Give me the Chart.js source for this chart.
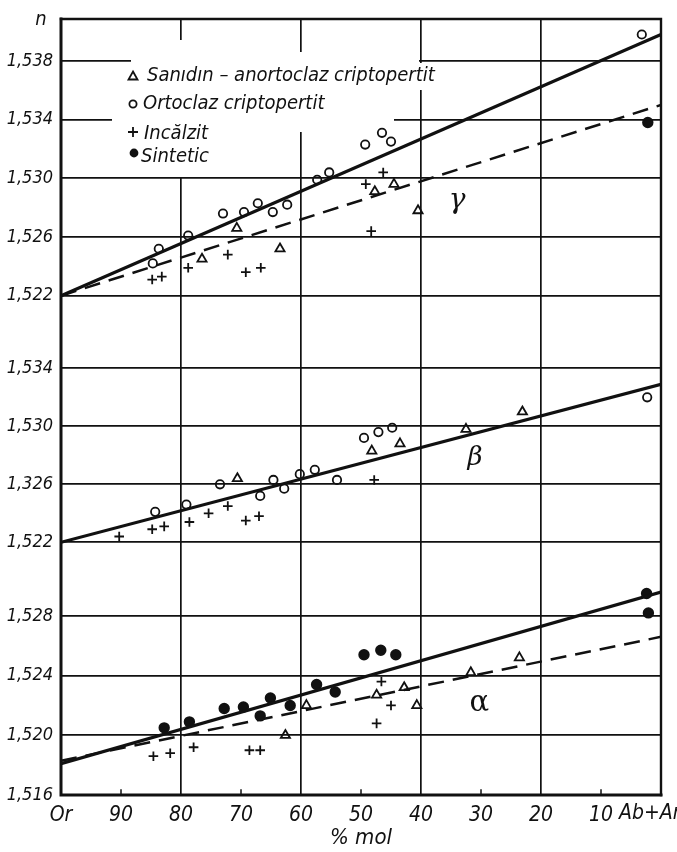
<!DOCTYPE html>
<html>
<head>
<meta charset="utf-8">
<script src="https://cdn.jsdelivr.net/npm/chart.js@4/dist/chart.umd.min.js"></script>
<style>
  html, body { margin: 0; padding: 0; background: #fff; }
  #wrap { width: 677px; height: 852px; }
  canvas { display: block; }
</style>
</head>
<body>
<div id="wrap"><canvas id="chart" width="677" height="852"></canvas></div>
<script>
// ---- composition axis (% mol, Or = 100 ... Ab+An = 0) ----
const xTicks = [100, 90, 80, 70, 60, 50, 40, 30, 20, 10, 0];
const xTickLabels = ['Or', '90', '80', '70', '60', '50', '40', '30', '20', '10', 'Ab+An'];
const xTitle = '% mol';
const yTitle = 'n';

// ---- refractive index ticks for the three bands ----
const gammaTicks = [1.538, 1.534, 1.530, 1.526, 1.522];
const gammaTickLabels = ['1,538', '1,534', '1,530', '1,526', '1,522'];
const betaTicks = [1.534, 1.530, 1.526, 1.522];
const betaTickLabels = ['1,534', '1,530', '1,326', '1,522'];
const alphaTicks = [1.528, 1.524, 1.520, 1.516];
const alphaTickLabels = ['1,528', '1,524', '1,520', '1,516'];

const seriesNames = ['Sanıdın – anortoclaz criptopertit', 'Ortoclaz criptopertit', 'Incălzit', 'Sintetic'];
const bandNames = ['γ', 'β', 'α'];

// ---- γ : [% mol Or, n] ----
const gammaSanidin = [[70.7, 1.5266], [76.5, 1.5245], [63.5, 1.5252], [47.7, 1.5291], [44.5, 1.5296], [40.5, 1.5278]];
const gammaOrtoclaz = [[84.7, 1.5242], [83.7, 1.5252], [78.8, 1.5261], [73.0, 1.5276], [69.5, 1.5277], [67.2, 1.5283],
  [64.7, 1.5277], [62.3, 1.5282], [57.3, 1.5299], [55.3, 1.5304], [49.3, 1.5323], [46.5, 1.5331], [45.0, 1.5325], [3.2, 1.5398]];
const gammaIncalzit = [[84.8, 1.5231], [83.2, 1.5233], [78.8, 1.5239], [72.2, 1.5248], [69.2, 1.5236], [66.7, 1.5239],
  [49.2, 1.5296], [46.3, 1.5304], [48.3, 1.5264]];
const gammaSintetic = [[2.2, 1.5338]];
const gammaFitSolid = [[100, 1.5220], [0, 1.5398]];
const gammaFitDashed = [[100, 1.5220], [0, 1.5350]];

// ---- β ----
const betaSanidin = [[70.6, 1.5264], [48.2, 1.5283], [43.5, 1.5288], [32.5, 1.5298], [23.1, 1.5310]];
const betaOrtoclaz = [[84.3, 1.5241], [79.1, 1.5246], [73.5, 1.5260], [66.8, 1.5252], [64.6, 1.5263], [62.8, 1.5257],
  [60.2, 1.5267], [57.7, 1.5270], [54.0, 1.5263], [49.5, 1.5292], [47.1, 1.5296], [44.8, 1.5299], [2.3, 1.5320]];
const betaIncalzit = [[90.3, 1.5224], [84.8, 1.5229], [82.8, 1.5231], [78.6, 1.5234], [75.4, 1.5240], [72.2, 1.5245],
  [69.2, 1.5235], [67.0, 1.5238], [47.8, 1.5263]];
const betaFitSolid = [[100, 1.5220], [0, 1.5329]];

// ---- α ----
const alphaSanidin = [[62.6, 1.5200], [59.1, 1.5220], [47.4, 1.5227], [42.8, 1.5232], [40.7, 1.5220], [31.7, 1.5242], [23.6, 1.5252]];
const alphaIncalzit = [[84.6, 1.5186], [81.8, 1.5188], [77.9, 1.5192], [68.6, 1.5190], [66.8, 1.5190],
  [46.6, 1.5236], [45.0, 1.5220], [47.4, 1.5208]];
const alphaSintetic = [[82.8, 1.5205], [78.6, 1.5209], [72.8, 1.5218], [69.6, 1.5219], [66.8, 1.5213], [65.1, 1.5225],
  [61.8, 1.5220], [57.4, 1.5234], [54.3, 1.5229], [49.5, 1.5254], [46.7, 1.5257], [44.2, 1.5254], [2.4, 1.5295], [2.1, 1.5282]];
const alphaFitSolid = [[100, 1.5181], [0, 1.5296]];
const alphaFitDashed = [[100, 1.5183], [0, 1.5266]];

// ---- layout of the stacked bands on one shared vertical scale ----
const STEP = 0.004;
const Y_TOP = 776;
const bands = {
  gamma: { base: 1.522, at: 499.3, perStep: 58.7 },
  beta:  { base: 1.522, at: 252.7, perStep: 58.0 },
  alpha: { base: 1.516, at: 0,     perStep: 59.7 }
};
function toV(band, n) {
  const b = bands[band];
  return b.at + (n - b.base) / STEP * b.perStep;
}
function pts(band, arr) {
  return arr.map(([x, n]) => ({ x: x, y: toV(band, n) }));
}

const yTickList = [];
gammaTicks.forEach((n, i) => yTickList.push({ v: toV('gamma', n), label: gammaTickLabels[i] }));
betaTicks.forEach((n, i) => yTickList.push({ v: toV('beta', n), label: betaTickLabels[i] }));
alphaTicks.forEach((n, i) => yTickList.push({ v: toV('alpha', n), label: alphaTickLabels[i] }));

const INK = '#111';
const FONT = "'DejaVu Sans Condensed', 'DejaVu Sans', sans-serif";

function marker(style, radius, extra) {
  return Object.assign({
    type: 'scatter', showLine: false, pointStyle: style, pointRadius: radius,
    borderColor: INK, backgroundColor: 'rgba(0,0,0,0)', pointBorderWidth: 1.8
  }, extra || {});
}
function fit(band, arr, dashed) {
  return {
    type: 'scatter', data: pts(band, arr), showLine: true, pointRadius: 0,
    borderColor: INK, borderWidth: dashed ? 2.5 : 3.2, borderDash: dashed ? [16, 9] : [],
    fill: false
  };
}

const datasets = [
  fit('gamma', gammaFitSolid, false),
  fit('gamma', gammaFitDashed, true),
  fit('beta', betaFitSolid, false),
  fit('alpha', alphaFitSolid, false),
  fit('alpha', alphaFitDashed, true),
  marker('triangle', 5.3, { label: seriesNames[0], data: pts('gamma', gammaSanidin).concat(pts('beta', betaSanidin), pts('alpha', alphaSanidin)) }),
  marker('circle', 4.2, { label: seriesNames[1], data: pts('gamma', gammaOrtoclaz).concat(pts('beta', betaOrtoclaz)) }),
  marker('cross', 4.8, { label: seriesNames[2], data: pts('gamma', gammaIncalzit).concat(pts('beta', betaIncalzit), pts('alpha', alphaIncalzit)) }),
  marker('circle', 4.8, { label: seriesNames[3], backgroundColor: INK, data: pts('gamma', gammaSintetic).concat(pts('alpha', alphaSintetic)) })
];

// white patches behind the key (offsets from the plot's top-left corner)
const keyPatches = [
  [115, 21, 125, 33],
  [70, 33, 358, 45],
  [356, 44, 363, 71],
  [51, 45, 333, 113],
  [51, 113, 236, 158]
];
// key rows: marker centre and text baseline, relative to the plot's top-left corner
const keyRows = [
  { kind: 'triangle', mx: 72, my: 57, tx: 86, ty: 62 },
  { kind: 'circle', mx: 72, my: 85, tx: 82, ty: 90 },
  { kind: 'plus', mx: 72, my: 113, tx: 83, ty: 120 },
  { kind: 'dot', mx: 73, my: 134, tx: 80, ty: 143 }
];
const minorTicks = [90, 70, 50, 30, 10];
const bandLabelPos = [
  { band: 'gamma', x: 34, n: 1.5285, font: 'italic 28px "DejaVu Serif", serif' },
  { band: 'beta', x: 31, n: 1.5278, font: 'italic 26px "DejaVu Serif", serif' },
  { band: 'alpha', x: 30.3, n: 1.5221, font: '29px "DejaVu Serif", serif' }
];

function drawKeyMarker(ctx, kind, x, y) {
  ctx.save();
  ctx.strokeStyle = INK; ctx.fillStyle = INK; ctx.lineWidth = 1.8;
  ctx.beginPath();
  if (kind === 'triangle') {
    ctx.moveTo(x, y - 4.5); ctx.lineTo(x + 4.5, y + 3.5); ctx.lineTo(x - 4.5, y + 3.5); ctx.closePath(); ctx.stroke();
  } else if (kind === 'circle') {
    ctx.arc(x, y, 3.6, 0, Math.PI * 2); ctx.stroke();
  } else if (kind === 'plus') {
    ctx.moveTo(x - 5, y); ctx.lineTo(x + 5, y); ctx.moveTo(x, y - 5); ctx.lineTo(x, y + 5); ctx.stroke();
  } else {
    ctx.arc(x, y, 4.4, 0, Math.PI * 2); ctx.fill();
  }
  ctx.restore();
}

const decor = {
  id: 'decor',
  beforeDatasetsDraw(chart) {
    const { ctx, chartArea: a, scales: { x } } = chart;
    ctx.save();
    ctx.fillStyle = '#fff';
    keyPatches.forEach(r => ctx.fillRect(a.left + r[0], a.top + r[1], r[2] - r[0], r[3] - r[1]));
    ctx.strokeStyle = INK;
    ctx.lineCap = 'square';
    ctx.lineWidth = 2.4;
    ctx.beginPath(); ctx.moveTo(a.left, a.top); ctx.lineTo(a.right, a.top); ctx.lineTo(a.right, a.bottom); ctx.stroke();
    ctx.lineWidth = 3;
    ctx.beginPath(); ctx.moveTo(a.left, a.top); ctx.lineTo(a.left, a.bottom); ctx.lineTo(a.right, a.bottom); ctx.stroke();
    ctx.lineWidth = 1.5;
    minorTicks.forEach(v => {
      const px = x.getPixelForValue(v);
      ctx.beginPath(); ctx.moveTo(px, a.bottom); ctx.lineTo(px, a.bottom - 5); ctx.stroke();
    });
    ctx.restore();
  },
  afterDraw(chart) {
    const { ctx, chartArea: a, scales: { x, y } } = chart;
    ctx.save();
    ctx.fillStyle = INK;
    // key
    ctx.font = 'italic 20px ' + FONT;
    ctx.textAlign = 'left'; ctx.textBaseline = 'alphabetic';
    keyRows.forEach((r, i) => {
      drawKeyMarker(ctx, r.kind, a.left + r.mx, a.top + r.my);
      ctx.fillText(seriesNames[i], a.left + r.tx, a.top + r.ty);
    });
    // band letters
    ctx.textAlign = 'center'; ctx.textBaseline = 'middle';
    bandLabelPos.forEach((b, i) => {
      ctx.font = b.font;
      ctx.fillText(bandNames[i], x.getPixelForValue(b.x), y.getPixelForValue(toV(b.band, b.n)));
    });
    // axis name of n
    ctx.font = 'italic 20px ' + FONT;
    ctx.textAlign = 'center'; ctx.textBaseline = 'alphabetic';
    ctx.fillText(yTitle, 41, 25);
    // end label of the composition axis
    ctx.font = 'italic 21px ' + FONT;
    ctx.textAlign = 'left'; ctx.textBaseline = 'top';
    ctx.fillText(xTickLabels[xTickLabels.length - 1], 619, a.bottom + 8);
    ctx.restore();
  }
};

new Chart(document.getElementById('chart'), {
  type: 'scatter',
  data: { datasets: datasets },
  options: {
    responsive: false,
    animation: false,
    layout: { padding: { left: 0, right: 16, top: 19, bottom: 0 } },
    plugins: { legend: { display: false }, tooltip: { enabled: false } },
    scales: {
      x: {
        type: 'linear', reverse: true, min: 0, max: 100,
        afterBuildTicks: s => { s.ticks = xTicks.map(v => ({ value: v })); },
        afterFit: s => { s.height = 57; },
        ticks: {
          autoSkip: false, maxRotation: 0, minRotation: 0, padding: 8, color: INK,
          font: { family: FONT, size: 21, style: 'italic' },
          callback: v => (v === 0 ? '' : xTickLabels[xTicks.indexOf(v)])
        },
        grid: {
          drawTicks: false, lineWidth: 1.7,
          color: c => (c.tick && c.tick.value % 20 === 0 && c.tick.value > 0 && c.tick.value < 100) ? INK : 'rgba(0,0,0,0)'
        },
        border: { display: false },
        title: { display: true, text: xTitle, color: INK, font: { family: FONT, size: 22, style: 'italic' }, padding: { top: 0, bottom: 1 } }
      },
      y: {
        type: 'linear', min: 0, max: Y_TOP,
        afterBuildTicks: s => { s.ticks = yTickList.map(t => ({ value: t.v })); },
        afterFit: s => { s.width = 61; },
        ticks: {
          autoSkip: false, padding: 8, color: INK,
          font: { family: FONT, size: 18, style: 'italic' },
          callback: v => {
            const t = yTickList.find(t => Math.abs(t.v - v) < 0.01);
            return t ? t.label : '';
          }
        },
        grid: { drawTicks: false, lineWidth: 1.7, color: INK },
        border: { display: false }
      }
    }
  },
  plugins: [decor]
});
</script>
</body>
</html>
